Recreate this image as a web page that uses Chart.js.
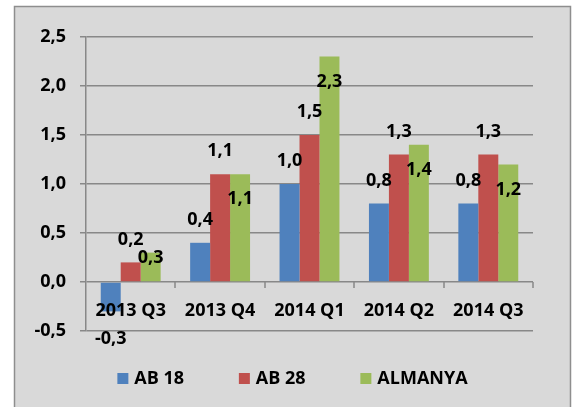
<!DOCTYPE html>
<html>
<head>
<meta charset="utf-8">
<script src="https://cdn.jsdelivr.net/npm/chart.js@4.4.0/dist/chart.umd.min.js"></script>
<style>
  html, body { margin: 0; padding: 0; background: #fff; }
</style>
</head>
<body>
<canvas id="chart" width="573" height="407"></canvas>
<script>
var categories = ['2013 Q3', '2013 Q4', '2014 Q1', '2014 Q2', '2014 Q3'];
var seriesNames = ['AB 18', 'AB 28', 'ALMANYA'];
var ab18 = [-0.3, 0.4, 1.0, 0.8, 0.8];
var ab28 = [0.2, 1.1, 1.5, 1.3, 1.3];
var almanya = [0.3, 1.1, 2.3, 1.4, 1.2];
var yTicks = [-0.5, 0, 0.5, 1.0, 1.5, 2.0, 2.5];

var FAMILY = '"Open Sans", "Liberation Sans", sans-serif';
var FONT = 'bold 18px ' + FAMILY;
var GRID = '#888888';

function fmt(v) {
    return v.toFixed(1).replace('.', ',');
}

// gray frame behind the chart
var framePlugin = {
    id: 'frame',
    beforeDraw: function(chart) {
        var c = chart.ctx;
        c.save();
        c.fillStyle = '#ffffff';
        c.fillRect(0, 0, chart.width, chart.height);
        c.fillStyle = '#d9d9d9';
        c.fillRect(14, 6, chart.width - 16, chart.height);
        c.strokeStyle = '#8e8e8e';
        c.lineWidth = 1.5;
        c.strokeRect(14.5, 6.5, chart.width - 17, chart.height + 10);
        c.restore();
    }
};

// category labels, zero-line ticks, value labels and legend
var textPlugin = {
    id: 'texts',
    afterDatasetsDraw: function(chart) {
        var c = chart.ctx;
        var x = chart.scales.x;
        var y = chart.scales.y;
        var zeroY = y.getPixelForValue(0);
        c.save();

        // tick marks on the zero line between categories
        c.strokeStyle = GRID;
        c.lineWidth = 1.5;
        c.beginPath();
        for (var i = 0; i < categories.length; i++) {
            var bx = Math.round(x.getPixelForValue(i + 0.5));
            c.moveTo(bx, zeroY);
            c.lineTo(bx, zeroY + 6);
        }
        c.stroke();

        c.font = FONT;
        c.fillStyle = '#000';
        c.textAlign = 'center';
        c.textBaseline = 'middle';

        // category labels just under the zero line
        categories.forEach(function(cat, i) {
            c.fillText(cat, x.getPixelForValue(i), zeroY + 29);
        });

        // value labels
        chart.data.datasets.forEach(function(ds, di) {
            var meta = chart.getDatasetMeta(di);
            meta.data.forEach(function(bar, i) {
                var v = ds.data[i];
                var ly;
                if (v < 0) {
                    ly = bar.y + 27;
                } else if (ds.labelPos === 'inside') {
                    ly = Math.min(bar.y + 25, zeroY - 24);
                } else {
                    ly = bar.y - 23;
                }
                c.fillText(fmt(v), bar.x, ly);
            });
        });

        // legend
        var step = 121.5;
        var lastW = c.measureText(seriesNames[seriesNames.length - 1]).width;
        var total = step * (seriesNames.length - 1) + 17 + lastW;
        var startX = 292.5 - total / 2;
        var ly = 379;
        c.textAlign = 'left';
        chart.data.datasets.forEach(function(ds, di) {
            var sx = startX + di * step;
            c.fillStyle = ds.backgroundColor;
            c.fillRect(sx, ly - 6, 11, 11);
            c.fillStyle = '#000';
            c.fillText(ds.label, sx + 17, ly);
        });

        c.restore();
    }
};

var ctx = document.getElementById('chart').getContext('2d');
var chart = new Chart(ctx, {
    type: 'bar',
    data: {
        labels: categories,
        datasets: [
            { label: seriesNames[0], data: ab18, backgroundColor: '#4f81bd', labelPos: 'above' },
            { label: seriesNames[1], data: ab28, backgroundColor: '#c0504d', labelPos: 'above' },
            { label: seriesNames[2], data: almanya, backgroundColor: '#9bbb59', labelPos: 'inside' }
        ]
    },
    options: {
        responsive: false,
        animation: false,
        devicePixelRatio: 1,
        layout: {
            padding: { left: 0, right: 40, top: 37, bottom: 76 }
        },
        datasets: {
            bar: {
                categoryPercentage: 0.67,
                barPercentage: 1.0
            }
        },
        plugins: {
            legend: { display: false },
            tooltip: { enabled: false }
        },
        scales: {
            x: {
                display: false
            },
            y: {
                min: yTicks[0],
                max: yTicks[yTicks.length - 1],
                afterFit: function(scale) { scale.width = 86; },
                afterBuildTicks: function(scale) {
                    scale.ticks = yTicks.map(function(v) { return { value: v }; });
                },
                ticks: {
                    color: '#000',
                    font: { family: FAMILY, size: 18, weight: 'bold' },
                    padding: 14,
                    callback: function(v) { return fmt(v); }
                },
                grid: {
                    color: GRID,
                    lineWidth: 1.5,
                    tickLength: 6,
                    drawTicks: true
                },
                border: {
                    display: true,
                    color: GRID,
                    width: 1.5
                }
            }
        }
    },
    plugins: [framePlugin, textPlugin]
});
</script>
</body>
</html>
